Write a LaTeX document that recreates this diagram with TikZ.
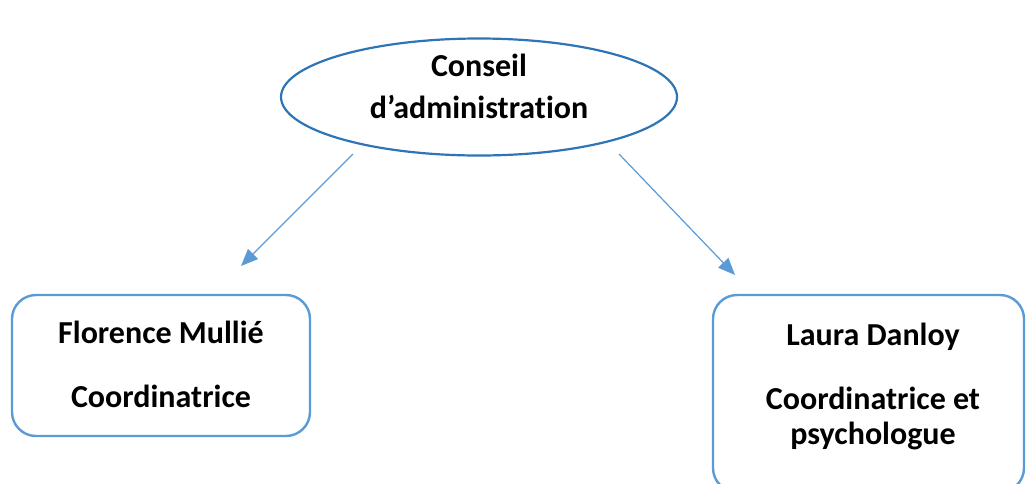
\documentclass[tikz,border=0pt]{standalone}
\usepackage{fontspec}
\setmainfont{Carlito}[Ligatures={NoCommon}]
\usetikzlibrary{shapes.geometric,arrows.meta}
\definecolor{ellblue}{RGB}{46,117,182}
\definecolor{boxblue}{RGB}{91,155,213}
\tikzset{
  ellnode/.style={ellipse,draw=ellblue,line width=2.2pt,minimum width=396pt,minimum height=117pt,inner sep=0pt},
  boxnode/.style={rectangle,draw=boxblue,line width=2.4pt,rounded corners=24pt,inner sep=0pt},
  txt/.style={anchor=base,inner sep=0pt,font=\fontsize{32}{38}\selectfont\bfseries},
  conn/.style={draw=boxblue,line width=1.2pt,-{Triangle[length=17pt,width=14pt]}}
}
\begin{document}
\begin{tikzpicture}[x=1pt,y=-1pt]
\useasboundingbox (0,0) rectangle (1027,483);
\node[ellnode] (ca) at (479,97) {};
\node[txt] (ca1) at (479,76) {Conseil};
\node[txt] (ca2) at (479,118) {d’administration};
\node[boxnode,minimum width=298pt,minimum height=141pt] (fm) at (161,365.5) {};
\node[txt] (fm1) at (161,343) {Florence Mullié};
\node[txt] (fm2) at (161,407) {Coordinatrice};
\node[boxnode,minimum width=311pt,minimum height=197pt] (ld) at (868.5,393.5) {};
\node[txt] (ld1) at (873,345) {Laura Danloy};
\node[txt] (ld2) at (873,409) {Coordinatrice et};
\node[txt] (ld3) at (873,444) {psychologue};
\coordinate (s1) at (353,154);
\coordinate (e1) at (241,266);
\coordinate (s2) at (619,154);
\coordinate (e2) at (735,275);
\draw[conn] (s1) -- (e1);
\draw[conn] (s2) -- (e2);
\end{tikzpicture}
\end{document}
